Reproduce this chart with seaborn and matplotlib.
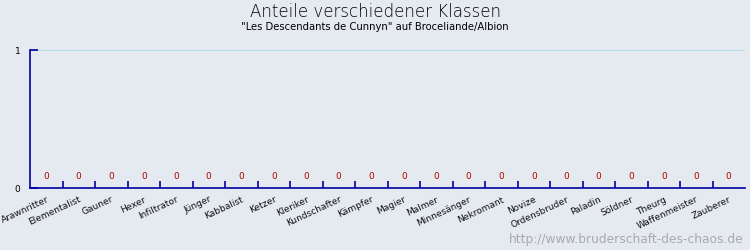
import matplotlib
matplotlib.use("Agg")
import matplotlib.pyplot as plt
import seaborn as sns
import pandas as pd
import numpy as np

classes = ["Arawnritter", "Elementalist", "Gauner", "Hexer", "Infiltrator", "Jünger",
           "Kabbalist", "Ketzer", "Kleriker", "Kundschafter", "Kämpfer", "Magier",
           "Malmer", "Minnesänger", "Nekromant", "Novize", "Ordensbruder", "Paladin",
           "Söldner", "Theurg", "Waffenmeister", "Zauberer"]
shares = [0, 0, 0, 0, 0, 0, 0, 0, 0, 0, 0, 0, 0, 0, 0, 0, 0, 0, 0, 0, 0, 0]
y_ticks = [0, 1]

title = "Anteile verschiedener Klassen"
subtitle = "\"Les Descendants de Cunnyn\" auf Broceliande/Albion"
watermark = "http://www.bruderschaft-des-chaos.de"

bg = "#e5eaf1"
axis_col = "#0000a0"
grid_col = "#a8d8e8"

sns.set_theme(style="white")
plt.rcParams['font.family'] = ['DejaVu Sans']

df = pd.DataFrame({"Klasse": classes, "Anteil": shares})

fig = plt.figure(figsize=(7.5, 2.5), dpi=100, facecolor=bg)
ax = fig.add_axes([30/750, 1-188/250, 715/750, 138/250])
ax.set_facecolor(bg)

sns.barplot(data=df, x="Klasse", y="Anteil", color="#3060c0", ax=ax, width=0.6)

n = len(classes)
ax.set_xlim(-0.5, n - 0.5)
ax.set_ylim(0, 1)

# grid line at 1
ax.axhline(1, color=grid_col, lw=1.2, zorder=0)

for s in ["top", "right"]:
    ax.spines[s].set_visible(False)
for s in ["left", "bottom"]:
    ax.spines[s].set_color(axis_col)
    ax.spines[s].set_linewidth(1.2)

ax.set_yticks(y_ticks)
ax.set_yticklabels([str(v) for v in y_ticks], fontsize=6.5, color="#000000")
ax.tick_params(axis="y", left=True, length=6, direction="in", color=axis_col, width=1.2, pad=7)

ax.set_xticks(range(n))
ax.set_xticklabels(classes, rotation=25, ha="right", rotation_mode="anchor",
                   fontsize=6.5, color="#111111")
ax.tick_params(axis="x", which="major", bottom=True, length=0, pad=5)
ax.set_xticks([i + 0.5 for i in range(n - 1)], minor=True)
ax.tick_params(axis="x", which="minor", bottom=True, length=5, direction="in",
               color=axis_col, width=1.2)
ax.set_xlabel("")
ax.set_ylabel("")

for i, v in enumerate(shares):
    ax.annotate(f"{v:g}", (i, v), xytext=(0, 5), textcoords="offset points",
                ha="center", va="bottom", fontsize=6.5, color="#b00000")

fig.text(0.5, 1 - 12/250, title, ha="center", va="center", fontsize=12,
         color="#000000", family="DejaVu Sans", fontweight="light")
fig.text(0.5, 1 - 27/250, subtitle, ha="center", va="center", fontsize=8,
         color="#000000", family="DejaVu Sans", fontstretch="condensed")
fig.text(743/750, 1 - 240/250, watermark, ha="right", va="center", fontsize=8.8,
         color="#aaaaaa", family="DejaVu Sans")

fig.savefig("out.png", dpi=100, facecolor=bg)
